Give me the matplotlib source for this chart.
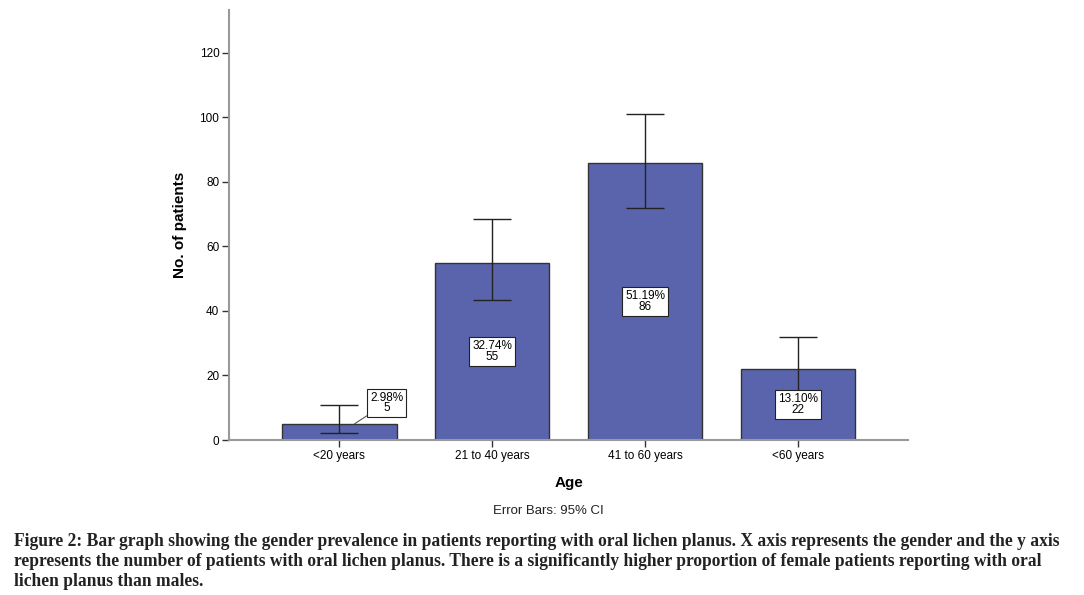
import matplotlib.pyplot as plt
import numpy as np

plt.rcParams['font.family'] = ['Liberation Sans', 'DejaVu Sans']

ages = ['<20 years', '21 to 40 years', '41 to 60 years', '<60 years']
counts = [5, 55, 86, 22]
pcts = ['2.98%', '32.74%', '51.19%', '13.10%']
ci_low = [2.2, 43.4, 71.9, 14.6]
ci_high = [10.9, 68.5, 101.1, 31.9]

caption_lines = [
    "Figure 2: Bar graph showing the gender prevalence in patients reporting with oral lichen planus. "
    "X axis represents the gender and the y axis",
    "represents the number of patients with oral lichen planus. There is a significantly higher "
    "proportion of female patients reporting with oral",
    "lichen planus than males.",
]

fig = plt.figure(figsize=(10.84, 5.95), dpi=100)
ax = fig.add_axes([0.2113, 0.2605, 0.6264, 0.7227])

x = np.arange(len(ages))
counts = np.array(counts)
lo = counts - np.array(ci_low)
hi = np.array(ci_high) - counts

ax.bar(x, counts, width=0.75, color='#5a64ad', edgecolor='#333333', linewidth=1, zorder=2)
ax.errorbar(x, counts, yerr=[lo, hi], fmt='none', ecolor='#222222', elinewidth=1,
            capsize=13.5, capthick=1, zorder=3)

box = dict(boxstyle='square,pad=0.25', fc='white', ec='#222222', lw=0.8)
for i in range(len(ages)):
    txt = pcts[i] + '\n' + str(counts[i])
    if i == 0:
        ax.annotate(txt, xy=(x[i] + 0.1, counts[i]), xytext=(x[i] + 0.31, 11.5),
                    ha='center', va='center', fontsize=8.5, linespacing=0.85, bbox=box, zorder=4,
                    arrowprops=dict(arrowstyle='-', color='#555555', lw=0.8, shrinkA=0, shrinkB=0))
    else:
        ax.text(x[i], counts[i] / 2, txt, ha='center', va='center', fontsize=8.5,
                linespacing=0.85, bbox=box, zorder=4)

ax.set_xlim(-0.72, 3.72)
ax.set_ylim(0, 133.3)
ax.set_yticks([0, 20, 40, 60, 80, 100, 120])
ax.set_xticks(x)
ax.set_xticklabels(ages)
ax.tick_params(axis='both', labelsize=8.5, length=5, width=1, color='#333333', pad=2)
for s in ['top', 'right']:
    ax.spines[s].set_visible(False)
for s in ['left', 'bottom']:
    ax.spines[s].set_color('#999999')
    ax.spines[s].set_linewidth(1.5)

ax.set_xlabel('Age', fontsize=11, fontweight='bold', labelpad=10)
ax.set_ylabel('No. of patients', fontsize=11, fontweight='bold', labelpad=9)

fig.text(0.5055, 0.142, 'Error Bars: 95% CI', ha='center', va='center', fontsize=9.5, color='#222222')
for k, line in enumerate(caption_lines):
    fig.text(0.013, 1 - (542 + 20 * k) / 595, line, ha='left', va='center', fontsize=12.65,
             fontweight='bold', family='Liberation Serif', color='#222222')

fig.savefig('out.png', dpi=100)
